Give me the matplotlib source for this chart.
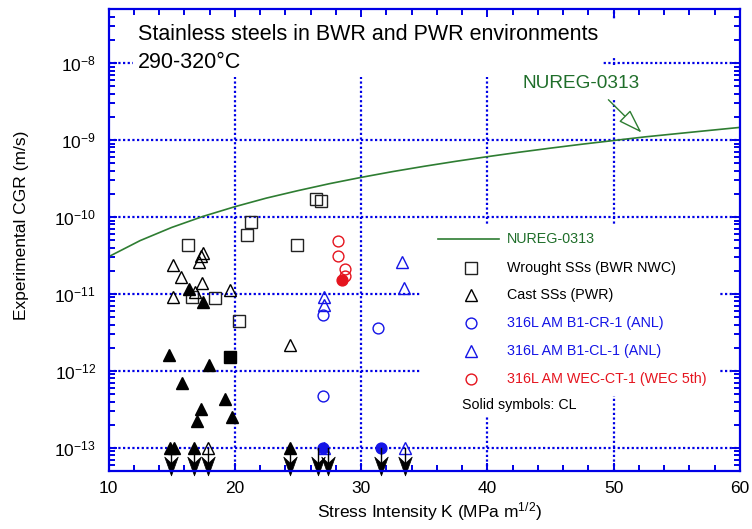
import numpy as np
import matplotlib
matplotlib.use('Agg')
import matplotlib.pyplot as plt
from matplotlib.path import Path
from matplotlib.patches import Rectangle
from matplotlib.ticker import NullFormatter, LogFormatterSciNotation, FixedLocator

plt.rcParams['font.family'] = ['Liberation Sans', 'DejaVu Sans']
plt.rcParams['mathtext.fontset'] = 'custom'
plt.rcParams['mathtext.rm'] = 'Liberation Sans'
plt.rcParams['mathtext.it'] = 'Liberation Sans:italic'
plt.rcParams['mathtext.bf'] = 'Liberation Sans:bold'
plt.rcParams['axes.unicode_minus'] = False

# ---------------- data ----------------
nureg_K = [10, 12.5, 15, 17.5, 20, 22.5, 25, 27.5, 30, 32.5, 35, 37.5, 40,
           42.5, 45, 47.5, 50, 52.5, 55, 57.5, 60]
nureg_cgr = [3.04e-11, 4.93e-11, 7.31e-11, 1.02e-10, 1.36e-10, 1.76e-10, 2.2e-10,
             2.71e-10, 3.27e-10, 3.89e-10, 4.56e-10, 5.29e-10, 6.08e-10, 6.94e-10,
             7.85e-10, 8.83e-10, 9.86e-10, 1.10e-9, 1.21e-9, 1.33e-9, 1.46e-9]

wrought_K = [16.3, 21.3, 21.0, 16.6, 18.45, 20.3, 26.4, 26.8, 24.95]
wrought_cgr = [4.3e-11, 8.5e-11, 5.9e-11, 9.1e-12, 8.9e-12, 4.4e-12, 1.7e-10, 1.6e-10, 4.3e-11]
wrought_cl_K = [19.65]
wrought_cl_cgr = [1.5e-12]

cast_K = [17.5, 17.35, 17.15, 15.1, 15.75, 17.4, 15.1, 19.65, 16.85, 24.4, 17.9]
cast_cgr = [3.4e-11, 3.1e-11, 2.6e-11, 2.4e-11, 1.65e-11, 1.4e-11, 9.1e-12, 1.14e-11,
            1.05e-11, 2.2e-12, 1.0e-13]
cast_cl_K = [16.4, 17.45, 14.8, 17.95, 15.85, 19.25, 17.35, 17.0, 19.8,
             14.9, 15.2, 16.75, 24.4]
cast_cl_cgr = [1.15e-11, 7.9e-12, 1.63e-12, 1.2e-12, 6.9e-13, 4.3e-13, 3.2e-13, 2.2e-13,
               2.5e-13, 1.0e-13, 1.0e-13, 1.0e-13, 1.0e-13]

cr1_K = [26.95, 31.3, 26.95]
cr1_cgr = [5.4e-12, 3.6e-12, 4.7e-13]
cr1_cl_K = [26.95, 31.6]
cr1_cl_cgr = [1.0e-13, 1.0e-13]

cl1_K = [33.25, 33.4, 27.05, 27.05, 27.1, 33.5]
cl1_cgr = [2.6e-11, 1.2e-11, 9.1e-12, 7.1e-12, 1.0e-13, 1.0e-13]

wec_K = [28.15, 28.15, 28.7, 28.7]
wec_cgr = [4.9e-11, 3.1e-11, 2.1e-11, 1.7e-11]
wec_cl_K = [28.5]
wec_cl_cgr = [1.5e-11]

# upper-bound (below detection) points drawn with downward arrows
arrow_K = [14.95, 16.8, 17.9, 24.4, 26.6, 27.4, 31.55, 33.5]
arrow_from = 1.0e-13

x_ticks = [10, 20, 30, 40, 50, 60]
y_ticks = [1e-13, 1e-12, 1e-11, 1e-10, 1e-9, 1e-8]

# ---------------- style ----------------
BLUE = '#0000E6'
MBLUE = '#1414E6'
RED = '#E5141E'
GREEN = '#2E7D32'
TGREEN = '#1F6E2A'

fig = plt.figure(figsize=(7.52, 5.29), dpi=100)
ax = fig.add_axes([108.5 / 752, 58 / 529, 631.5 / 752, 461.7 / 529])
ax.set_yscale('log')
ax.set_xlim(10, 60)
ax.set_ylim(5e-14, 5e-8)
ylo, yhi = ax.get_ylim()


def axc(px, py):
    return ((px - 108.5) / 631.5, (471 - py) / 461.7)


# grid (manual, so that white boxes can cover it)
for xv in x_ticks[1:-1]:
    ax.axvline(xv, color=BLUE, lw=1.6, ls=(0, (1, 1.1)), zorder=0.6)
for yv in y_ticks:
    ax.axhline(yv, color=BLUE, lw=1.6, ls=(0, (1, 1.1)), zorder=0.6)


def white_box(px0, py0, px1, py1):
    x0, y1 = axc(px0, py0)
    x1, y0 = axc(px1, py1)
    ax.add_patch(Rectangle((x0, y0), x1 - x0, y1 - y0, transform=ax.transAxes,
                           facecolor='white', edgecolor='none', zorder=1.0))


white_box(133, 9, 603, 77)      # title
white_box(606, 19, 620, 57)     # gap above 1e-8 at K=50
white_box(518, 67, 648, 98)     # NUREG label
white_box(420, 225, 720, 396)   # legend
white_box(455, 393, 590, 417)   # solid symbols note

# NUREG curve
ax.plot(nureg_K, nureg_cgr, color=GREEN, lw=1.2, zorder=2)

ms_sq, ms_tri, ms_c = 8, 8.5, 7.8
mew = 1.0
ax.plot(wrought_K, wrought_cgr, ls='none', marker='s', ms=ms_sq, mfc='none', mec='#222222', mew=mew, zorder=3)
ax.plot(wrought_cl_K, wrought_cl_cgr, ls='none', marker='s', ms=ms_sq, mfc='black', mec='black', mew=mew, zorder=3)
ax.plot(cast_K, cast_cgr, ls='none', marker='^', ms=ms_tri, mfc='none', mec='black', mew=mew, zorder=3)
ax.plot(cast_cl_K, cast_cl_cgr, ls='none', marker='^', ms=ms_tri, mfc='black', mec='black', mew=mew, zorder=3)
ax.plot(cr1_K, cr1_cgr, ls='none', marker='o', ms=ms_c, mfc='none', mec=MBLUE, mew=mew, zorder=3)
ax.plot(cr1_cl_K, cr1_cl_cgr, ls='none', marker='o', ms=ms_c, mfc=MBLUE, mec=MBLUE, mew=mew, zorder=3)
ax.plot(cl1_K, cl1_cgr, ls='none', marker='^', ms=ms_tri, mfc='none', mec=MBLUE, mew=mew, zorder=3)
ax.plot(wec_K, wec_cgr, ls='none', marker='o', ms=ms_c, mfc='none', mec=RED, mew=mew, zorder=3)
ax.plot(wec_cl_K, wec_cl_cgr, ls='none', marker='o', ms=ms_c, mfc=RED, mec=RED, mew=mew, zorder=3)

# downward arrows
head = Path([(0, -1), (0.72, 1), (0, 0.35), (-0.72, 1), (0, -1)],
            [Path.MOVETO, Path.LINETO, Path.LINETO, Path.LINETO, Path.CLOSEPOLY])
head_y = 5.81e-14
for k in arrow_K:
    ax.plot([k, k], [arrow_from, head_y], color='black', lw=1.0, zorder=4, clip_on=False)
ax.plot(arrow_K, [head_y] * len(arrow_K), ls='none', marker=head, ms=13.5,
        mfc='black', mec='black', mew=0.5, zorder=4, clip_on=False)

# axes styling
for s in ax.spines.values():
    s.set_color(BLUE)
    s.set_linewidth(1.6)
    s.set_zorder(5)
ax.set_xticks(x_ticks)
ax.set_xticks([v for v in range(10, 61, 2) if v % 10], minor=True)
ax.yaxis.set_major_locator(FixedLocator(y_ticks))
ax.yaxis.set_major_formatter(LogFormatterSciNotation())
minor_y = [m * 10.0 ** e for e in range(-14, -7) for m in range(2, 10)
           if ylo <= m * 10.0 ** e <= yhi]
ax.yaxis.set_minor_locator(FixedLocator(minor_y))
ax.yaxis.set_minor_formatter(NullFormatter())
ax.tick_params(which='both', direction='in', top=True, right=True, color=BLUE,
               labelsize=12.5, labelcolor='black')
ax.tick_params(which='major', length=6, width=1.4)
ax.tick_params(which='minor', length=4.5, width=1.4)
ax.tick_params(axis='x', which='major', pad=7)
ax.tick_params(axis='y', which='major', pad=9)

ax.set_xlabel('Stress Intensity K (MPa m$^{1/2}$)', fontsize=12.5)
ax.set_ylabel('Experimental CGR (m/s)', fontsize=12.5)
ax.xaxis.set_label_coords(*axc(430, 500))
ax.yaxis.set_label_coords(*axc(29, 225))

# title text
tx, ty1 = axc(138, 35)
_, ty2 = axc(138, 63)
ax.text(tx, ty1, 'Stainless steels in BWR and PWR environments', transform=ax.transAxes,
        fontsize=15.5, va='center', ha='left', zorder=6)
ax.text(tx, ty2, '290-320°C', transform=ax.transAxes,
        fontsize=15.5, va='center', ha='left', zorder=6)

# NUREG label with hollow arrow
ax.text(47.4, 5.4e-9, 'NUREG-0313', color=TGREEN, fontsize=13.7, ha='center', va='center', zorder=6)
ax.annotate('', xy=(52.2, 1.25e-9), xytext=(49.58, 3.34e-9),
            arrowprops=dict(arrowstyle='-|>,head_length=0.75,head_width=0.25', fc='white',
                            ec=GREEN, lw=1.0, mutation_scale=20, shrinkA=0, shrinkB=0),
            zorder=6)

# legend (manual)
lfs = 10.3
lx0, ly = axc(438, 239)
lx1, _ = axc(499, 239)
mx, _ = axc(471, 0)
tx_l, _ = axc(507, 0)
ax.plot([lx0, lx1], [ly, ly], color=GREEN, lw=1.2, transform=ax.transAxes, zorder=6)
ax.text(tx_l, ly, 'NUREG-0313', color=TGREEN, fontsize=lfs, va='center', transform=ax.transAxes, zorder=6)
entries = [
    (268, 's', ms_sq, '#222222', 'Wrought SSs (BWR NWC)', 'black'),
    (295, '^', ms_tri, 'black', 'Cast SSs (PWR)', 'black'),
    (323, 'o', ms_c, MBLUE, '316L AM B1-CR-1 (ANL)', MBLUE),
    (351, '^', ms_tri, MBLUE, '316L AM B1-CL-1 (ANL)', MBLUE),
    (379, 'o', ms_c, RED, '316L AM WEC-CT-1 (WEC 5th)', RED),
]
for py, mk, ms, mc, lab, tc in entries:
    _, yy = axc(0, py)
    ax.plot([mx], [yy], marker=mk, ms=ms, mfc='none', mec=mc, mew=mew,
            transform=ax.transAxes, zorder=6, clip_on=False)
    ax.text(tx_l, yy, lab, color=tc, fontsize=lfs, va='center', transform=ax.transAxes, zorder=6)
sx, sy = axc(462, 405)
ax.text(sx, sy, 'Solid symbols: CL', color='black', fontsize=lfs, va='center',
        transform=ax.transAxes, zorder=6)

fig.savefig('out.png', dpi=100)
